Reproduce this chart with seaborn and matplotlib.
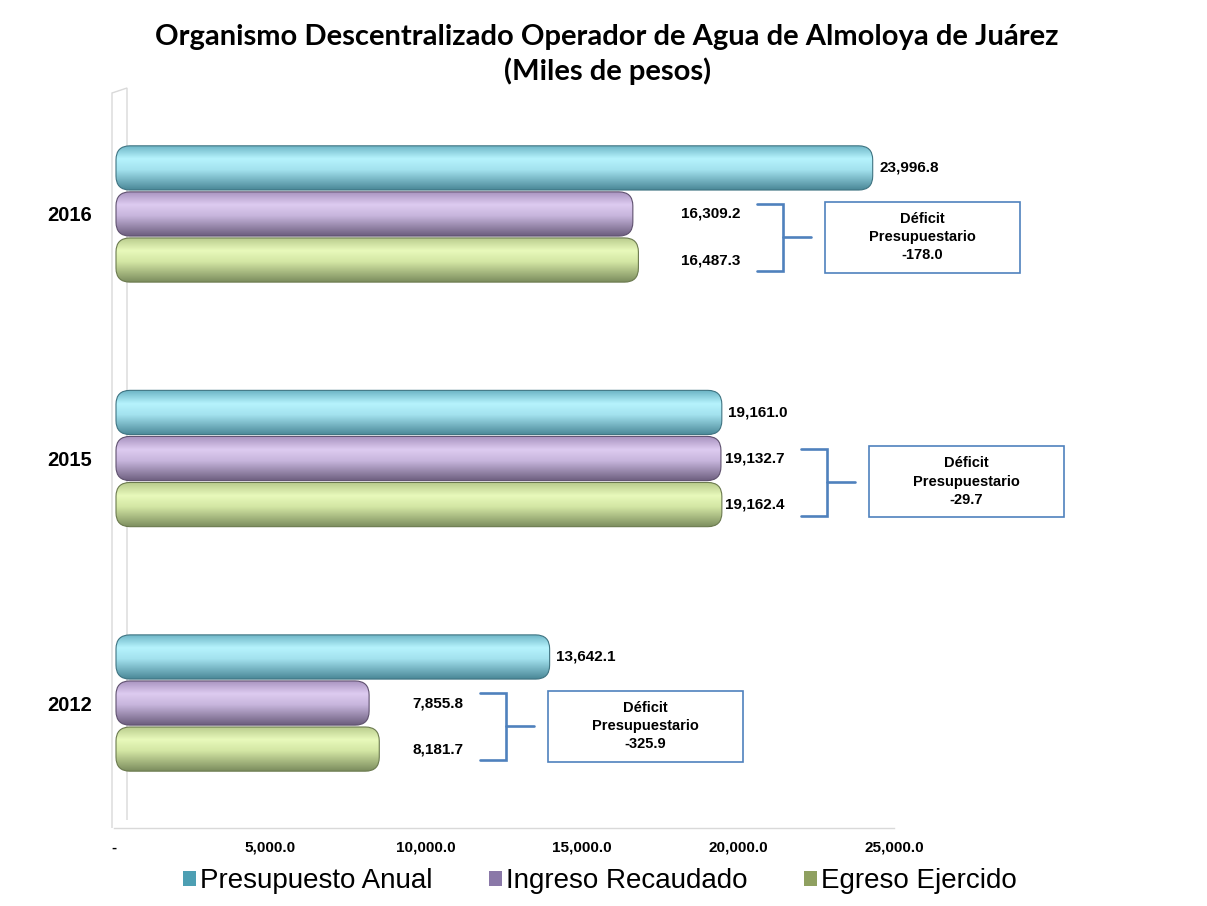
import numpy as np
import pandas as pd
import matplotlib
matplotlib.use('Agg')
import matplotlib.pyplot as plt
import seaborn as sns
from matplotlib.patches import FancyBboxPatch, Rectangle, Patch, Polygon
from matplotlib.colors import LinearSegmentedColormap
from matplotlib.ticker import FuncFormatter

# data (miles de pesos)
years = ['2016', '2015', '2012']
series = ['Presupuesto Anual', 'Ingreso Recaudado', 'Egreso Ejercido']
presupuesto = [23996.8, 19161.0, 13642.1]
ingreso = [16309.2, 19132.7, 7855.8]
egreso = [16487.3, 19162.4, 8181.7]
deficit = [-178.0, -29.7, -325.9]

# layout of the bracket / box annotations (x in data units)
bracket_left = [20609, 22019, 11731]

# colours: edge-dark, highlight, mid, bottom shade
shades = {
    'Presupuesto Anual': ['#6bb3c4', '#b6f3fd', '#a3e2ee', '#4a8797'],
    'Ingreso Recaudado': ['#a691bd', '#ddcbf0', '#c7b5dc', '#6c5e7e'],
    'Egreso Ejercido': ['#b6c98a', '#e8f9bb', '#d3e6a4', '#7c8d5e'],
}
edge_cols = {'Presupuesto Anual': '#3f7482', 'Ingreso Recaudado': '#5f516f', 'Egreso Ejercido': '#6b7a4e'}
legend_cols = {'Presupuesto Anual': '#4d9fb3', 'Ingreso Recaudado': '#8a78a8', 'Egreso Ejercido': '#8fa060'}

df = pd.DataFrame({
    'year': years * 3,
    'serie': np.repeat(series, 3),
    'valor': presupuesto + ingreso + egreso,
})

sns.set_style('white')
plt.rcParams['font.family'] = ['Liberation Sans', 'DejaVu Sans']
plt.rcParams['text.color'] = 'black'
plt.rcParams['xtick.labelcolor'] = 'black'
plt.rcParams['ytick.labelcolor'] = 'black'

fig = plt.figure(figsize=(12.07, 9.06), dpi=100)
ax = fig.add_axes([114 / 1207, 78 / 906, 780 / 1207, 738 / 906])

sns.barplot(data=df, y='year', x='valor', hue='serie', order=years, hue_order=series,
            orient='h', width=0.565, gap=0.04, palette=legend_cols, legend=False, ax=ax)

XMAX = 25000
YLIM = (2.511, -0.507)
ax.set_xlim(0, XMAX)
ax.set_ylim(*YLIM)

# pixel -> data scale for the rounded ends
px_x = XMAX / 780.0
px_y = (YLIM[0] - YLIM[1]) / 738.0
r_px = 14
mut_aspect = (r_px * px_y) / (r_px * px_x)
cap = 10 * px_x  # cylinder end cap past the value

bars = list(ax.patches)
for i, bar in enumerate(bars):
    serie = series[i // len(years)]
    x0, y0 = bar.get_x() + 2 * px_x, bar.get_y()
    w, h = bar.get_width() + cap - 2 * px_x, bar.get_height()
    bar.set_visible(False)
    shape = FancyBboxPatch((x0, y0), w, h,
                           boxstyle=f'round,pad=0,rounding_size={r_px * px_x}',
                           mutation_aspect=mut_aspect, transform=ax.transData,
                           facecolor='none', edgecolor=edge_cols[serie], lw=0.8, zorder=3,
                           clip_on=False)
    ax.add_patch(shape)
    cmap = LinearSegmentedColormap.from_list(
        'c', list(zip([0, 0.3, 0.55, 1.0], shades[serie])))
    grad = np.linspace(0, 1, 200)[:, None]
    im = ax.imshow(grad, cmap=cmap, aspect='auto', extent=(x0, x0 + w, y0 + h, y0),
                   origin='upper', zorder=2)
    im.set_clip_path(shape)

ax.set_xlim(0, XMAX)
ax.set_ylim(*YLIM)

# centres of each bar
centres = {}
for i, bar in enumerate(bars):
    centres[(i // len(years), i % len(years))] = bar.get_y() + bar.get_height() / 2

# value labels
for j in range(len(years)):
    ax.annotate(f'{presupuesto[j]:,.1f}', xy=(presupuesto[j], centres[(0, j)]),
                xytext=(12, 0), textcoords='offset points', ha='left', va='center',
                fontsize=11, fontweight='bold', annotation_clip=False)
    for k, vals in ((1, ingreso), (2, egreso)):
        ax.annotate(f'{vals[j]:,.1f}', xy=(bracket_left[j], centres[(k, j)]),
                    xytext=(-12, 0), textcoords='offset points', ha='right', va='center',
                    fontsize=11, fontweight='bold', annotation_clip=False)

# brackets and deficit boxes
blue = '#4f81bd'
arm = 26 * px_x
tick = 28 * px_x
gap = 14 * px_x
box_w = 195 * px_x
box_h = 71 * px_y
for j in range(len(years)):
    top = centres[(1, j)] - 10 * px_y
    bot = centres[(2, j)] + 11 * px_y
    mid = (centres[(1, j)] + centres[(2, j)]) / 2
    xl = bracket_left[j]
    xv = xl + arm
    ax.plot([xl, xv, xv, xl], [top, top, bot, bot], color=blue, lw=1.9,
            solid_joinstyle='miter', clip_on=False, zorder=4)
    ax.plot([xv, xv + tick], [mid, mid], color=blue, lw=1.9, clip_on=False, zorder=4)
    bx = xv + tick + gap
    ax.add_patch(Rectangle((bx, mid - box_h / 2), box_w, box_h, facecolor='white',
                           edgecolor=blue, lw=1.2, clip_on=False, zorder=4))
    ax.text(bx + box_w / 2, mid, f'Déficit\nPresupuestario\n{deficit[j]:.1f}',
            ha='center', va='center', fontsize=10.5, fontweight='bold',
            linespacing=1.4, clip_on=False, zorder=5)

# 3D-style back wall and floor
wall_col = '#d9d9d9'
ax.add_patch(Polygon([(-2 * px_x, YLIM[0]), (-2 * px_x, YLIM[1] + 3 * px_y),
                      (13 * px_x, YLIM[1] - 2 * px_y), (13 * px_x, YLIM[0] - 8 * px_y)],
                     closed=False, fill=False, edgecolor=wall_col, lw=1.0,
                     clip_on=False, zorder=1))

for s in ['top', 'right', 'left']:
    ax.spines[s].set_visible(False)
ax.spines['bottom'].set_color(wall_col)
ax.spines['bottom'].set_linewidth(1.0)

ax.set_xticks(range(0, XMAX + 1, 5000))
ax.xaxis.set_major_formatter(FuncFormatter(lambda v, p: '-' if v == 0 else f'{v:,.1f}'))
ax.tick_params(axis='x', length=3, color=wall_col, pad=6, labelsize=11)
ax.tick_params(axis='y', length=0, pad=16, labelsize=14.5)
for lab in ax.get_xticklabels() + ax.get_yticklabels():
    lab.set_fontweight('bold')
ax.set_xlabel('')
ax.set_ylabel('')

# title
fig.text(0.503, 1 - 37 / 906, 'Organismo Descentralizado Operador de Agua de Almoloya de Juárez',
         ha='center', va='center', fontsize=21, fontweight='bold', family=['Lato', 'DejaVu Sans'])
fig.text(0.503, 1 - 71 / 906, '(Miles de pesos)',
         ha='center', va='center', fontsize=21, fontweight='bold', family=['Lato', 'DejaVu Sans'])

handles = [Patch(facecolor=legend_cols[s], edgecolor='none') for s in series]
fig.legend(handles, series, loc='center', bbox_to_anchor=(0.497, 1 - 881 / 906), ncol=3,
           frameon=False, fontsize=20, handlelength=0.45, handleheight=0.45,
           handletextpad=0.15, columnspacing=2.05)

fig.savefig('out.png', dpi=100, facecolor='white')
